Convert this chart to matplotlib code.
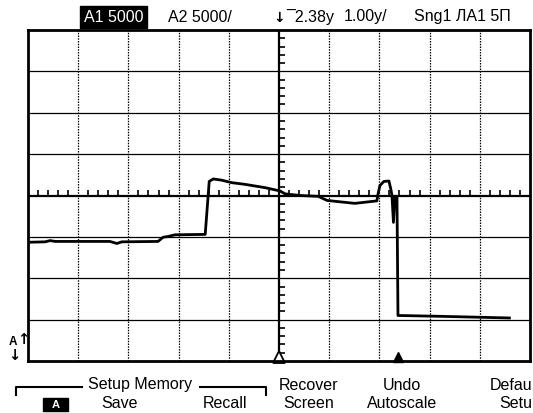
import matplotlib
matplotlib.use("Agg")
import matplotlib.pyplot as plt
from matplotlib.lines import Line2D
from matplotlib.patches import Rectangle

plt.rcParams['font.family'] = ['Liberation Sans', 'DejaVu Sans']

# ---- data (screen divisions) ----
trace_t = [-5.00, -4.66, -4.56, -4.46, -3.96, -3.37, -3.23, -3.13, -2.41, -2.31,
           -2.21, -2.07, -1.47, -1.39, -1.31, -1.14, -0.94, -0.68, -0.28, 0.02,
           0.12, 0.42, 0.78, 0.96, 1.51, 1.95, 1.97, 2.01, 2.09, 2.19,
           2.23, 2.25, 2.28, 2.31, 2.35, 2.37, 3.21, 4.59]
trace_v = [-1.13, -1.12, -1.09, -1.11, -1.11, -1.11, -1.16, -1.12, -1.11, -1.01,
           -0.99, -0.95, -0.94, 0.34, 0.40, 0.37, 0.31, 0.27, 0.19, 0.11,
           0.04, 0.00, -0.02, -0.12, -0.19, -0.13, 0.02, 0.24, 0.34, 0.35,
           0.14, 0.00, -0.65, -0.02, -0.02, -2.90, -2.92, -2.96]

header_labels = ["A1 5000", "A2 5000/", "\u2193", "\u00af2.38y", "1.00y/", "Sng1 \u041b\u04101 5\u041f"]
header_x = [84, 168, 273, 286, 344, 414]
menu_row1 = [("Setup Memory", 140), ("Recover", 309), ("Undo", 402)]
menu_row2 = [("Save", 120), ("Recall", 225), ("Screen", 309), ("Autoscale", 402)]
menu_cut = [("Defau", 385), ("Setu", 403)]

W, H = 533, 413
fig = plt.figure(figsize=(W / 100, H / 100), dpi=100)
fig.patch.set_facecolor('white')

def fx(x):
    return x / W

def fy(y):
    return 1 - y / H

# screen area in pixels
L, T, R, B = 28, 30, 530, 361
ax = fig.add_axes([fx(L), fy(B), (R - L) / W, (B - T) / H])
ax.set_xlim(-5, 5)
ax.set_ylim(-4, 4)
ax.set_xticks([])
ax.set_yticks([])
for s in ax.spines.values():
    s.set_linewidth(2.0)
    s.set_color('black')

# grid
for gx in [-4, -3, -2, -1, 1, 2, 3, 4]:
    ax.axvline(gx, color='black', lw=0.9, ls=(0, (1.2, 1.0)))
for gy in [-3, -2, -1, 1, 2, 3]:
    ax.axhline(gy, color='black', lw=0.9)
ax.axvline(0, color='black', lw=1.6)
ax.axhline(0, color='black', lw=1.6)

# minor ticks on center axes
dy_per_px = 8.0 / (B - T)
dx_per_px = 10.0 / (R - L)
for k in range(-25, 26):
    v = k * 0.2
    if k % 5 != 0:
        ax.plot([v, v], [0, 5.5 * dy_per_px], color='black', lw=1.2, solid_capstyle='butt')
for k in range(-20, 21):
    v = k * 0.2
    if k % 5 != 0:
        ax.plot([0, 6 * dx_per_px], [v, v], color='black', lw=1.2, solid_capstyle='butt')

# trace
ax.plot(trace_t, trace_v, color='black', lw=2.0, solid_joinstyle='round')

# markers at bottom
ax.plot([0], [-4 + 4.5 * dy_per_px], marker='^', ms=8, mfc='white', mec='black', mew=1.3, clip_on=False)
ax.plot([trace_t[-3]], [-4 + 4 * dy_per_px], marker='^', ms=6.5, mfc='black', mec='black', clip_on=False)

# header text
fs = 11.5
fig.text(fx(header_x[0]), fy(17), header_labels[0], color='white', fontsize=fs, va='center', ha='left',
         bbox=dict(boxstyle='square,pad=0.22', fc='black', ec='black'))
fig.text(fx(header_x[1]), fy(17), header_labels[1], color='black', fontsize=fs, va='center', ha='left')
fig.text(fx(header_x[2]), fy(18), header_labels[2], color='black', fontsize=10, va='center', ha='left',
         fontweight='bold', family=['DejaVu Sans'])
fig.text(fx(header_x[3]), fy(17), header_labels[3], color='black', fontsize=fs, va='center', ha='left')
fig.text(fx(header_x[4]), fy(17), header_labels[4], color='black', fontsize=fs, va='center', ha='left')
fig.text(fx(header_x[5]), fy(17), header_labels[5], color='black', fontsize=fs, va='center', ha='left')

# left A arrows
fig.text(fx(9), fy(342), "A", fontsize=8.5, fontweight='bold', va='center', ha='left')
fig.text(fx(17), fy(340), "\u2191", fontsize=10.5, fontweight='bold', va='center', ha='left', family=['DejaVu Sans'])
fig.text(fx(8), fy(356), "\u2193", fontsize=10.5, fontweight='bold', va='center', ha='left', family=['DejaVu Sans'])

# menu
for txt, cx in menu_row1:
    fig.text(fx(cx), fy(385), txt, fontsize=fs, va='center', ha='center')
for txt, cx in menu_row2:
    fig.text(fx(cx), fy(403), txt, fontsize=fs, va='center', ha='center')
for txt, yy in menu_cut:
    fig.text(fx(532), fy(yy), txt, fontsize=fs, va='center', ha='right')

# brackets
fig.add_artist(Line2D([fx(16), fx(16), fx(82)], [fy(395), fy(387), fy(387)], color='black', lw=1.5,
                      transform=fig.transFigure))
fig.add_artist(Line2D([fx(200), fx(266), fx(266)], [fy(387), fy(387), fy(395)], color='black', lw=1.5,
                      transform=fig.transFigure))
# inverse "A" box
fig.add_artist(Rectangle((fx(43), fy(411)), (68 - 43) / W, 13 / H, transform=fig.transFigure,
                         fc='black', ec='black'))
fig.text(fx(55.5), fy(404.5), "A", color='white', fontsize=8, fontweight='bold', va='center', ha='center')

fig.savefig("out.png", dpi=100, facecolor='white')
